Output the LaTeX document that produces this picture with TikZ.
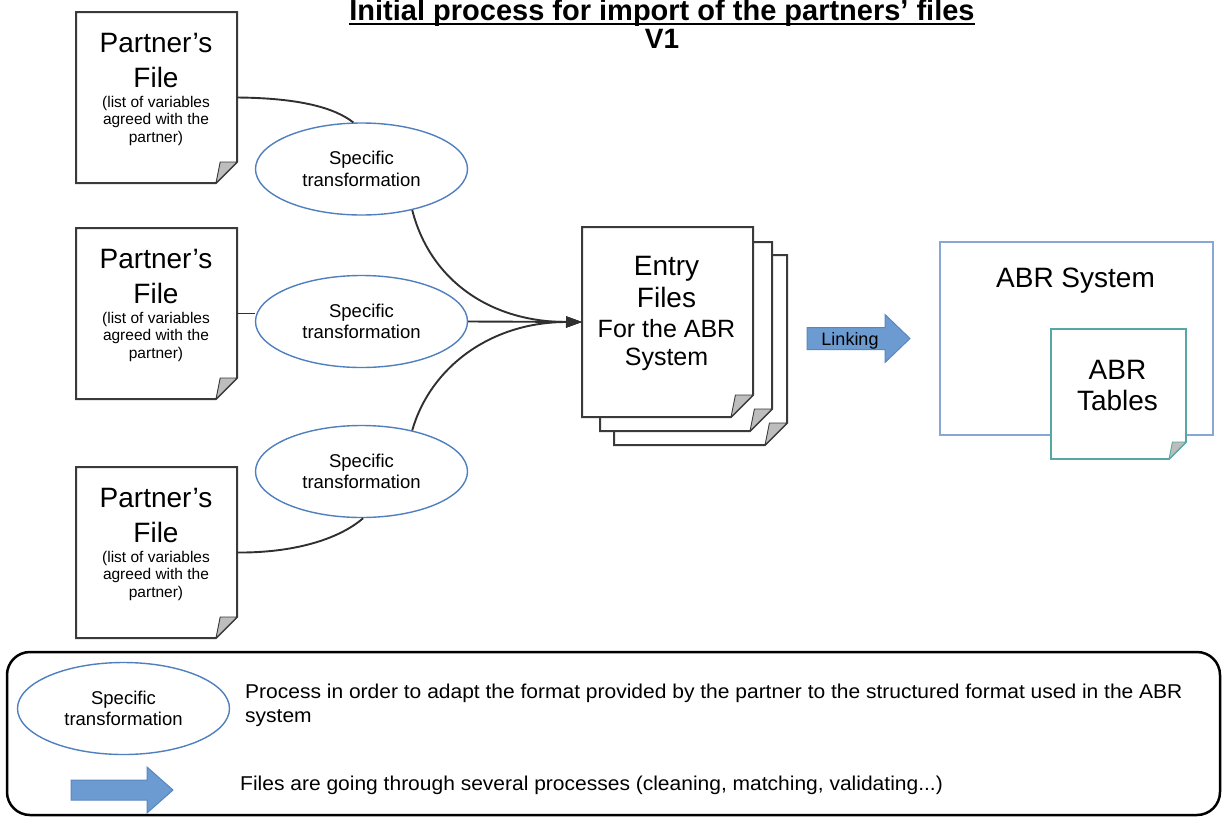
\documentclass[tikz,border=0pt]{standalone}
\usepackage{fontspec}
\setmainfont{Liberation Sans}
\newfontfamily\widesans[FakeStretch=1.05]{Liberation Sans}
\usetikzlibrary{arrows.meta,shapes.geometric}

\definecolor{ellblue}{HTML}{4F7FBF}
\definecolor{arrowfill}{HTML}{6C9BD2}
\definecolor{arrowedge}{HTML}{5A86C0}
\definecolor{sysblue}{HTML}{88A6D6}
\definecolor{tablegreen}{HTML}{55A8A4}
\definecolor{pageline}{HTML}{3A3A3A}
\definecolor{wirecol}{HTML}{303030}
\definecolor{foldgray}{HTML}{BDBDBD}

\newcommand{\fsz}[2]{\fontsize{#1}{#2}\selectfont}

% page with a curled bottom-right corner drawn around a (blank) node
% #1 node, #2 stroke colour, #3 fold size, #4 line width
\newcommand{\foldedpage}[4]{%
  \fill[white] (#1.north west) -- (#1.north east) -- ([yshift=#3]#1.south east)
     -- ([xshift=-#3]#1.south east) -- (#1.south west) -- cycle;
  \draw[#2, line width=#4, line join=miter] (#1.north west) -- (#1.north east)
     -- ([yshift=#3]#1.south east) -- ([xshift=-#3]#1.south east) -- (#1.south west) -- cycle;
  \filldraw[fill=foldgray, draw=#2, line width=0.9pt, line join=round]
     ([yshift=#3]#1.south east) -- ([xshift=-0.8*#3, yshift=#3]#1.south east)
     -- ([xshift=-#3]#1.south east) -- cycle;
}

% the three lines of a partner's file
\newcommand{\partnerlabels}[1]{%
  \node[bigtxt] (#1-l1) at ([xshift=-0.5pt, yshift=45.5pt]#1.center) {Partner’s};
  \node[bigtxt] (#1-l2) at ([xshift=-0.5pt, yshift=10.5pt]#1.center) {File};
  \node[smalltxt] (#1-l3) at ([xshift=-0.5pt, yshift=-9.5pt]#1.center) {(list of variables};
  \node[smalltxt] (#1-l4) at ([xshift=-0.5pt, yshift=-27pt]#1.center) {agreed with the};
  \node[smalltxt] (#1-l5) at ([xshift=-0.5pt, yshift=-44.5pt]#1.center) {partner)};
}

\tikzset{
  blank/.style={rectangle, draw=none, inner sep=0pt, outer sep=0pt},
  trans/.style={ellipse, draw=ellblue, line width=1.4pt, fill=white,
    minimum width=212pt, minimum height=92pt, inner sep=0pt,
    align=center, font=\fsz{18.5}{21.5}},
  bigtxt/.style={anchor=base, inner sep=0pt, font=\fsz{28}{30}},
  entrytxt/.style={anchor=base, inner sep=0pt, font=\fsz{25}{27}},
  smalltxt/.style={anchor=base, inner sep=0pt, font=\fsz{15.5}{17}},
  legtxt/.style={anchor=base west, inner sep=0pt, font=\widesans\fsz{20}{22}},
  wire/.style={draw=wirecol, line width=1.9pt},
  tip/.style={-{Triangle[length=16pt,width=11pt]}},
  blockarrow/.style={fill=arrowfill, draw=arrowedge, line width=1pt, line join=miter},
}

\begin{document}
\begin{tikzpicture}[x=1pt, y=-1pt]
\useasboundingbox (0,0) rectangle (1224,817);

% title
\node[anchor=base, inner sep=0pt, font=\fsz{29}{31}\bfseries] (title) at (662,20.5)
  {Initial process for import of the partners’ files};
\draw[line width=2.2pt] ([yshift=-3.5pt]title.base west) -- ([yshift=-3.5pt]title.base east);
\node[anchor=base, inner sep=0pt, font=\fsz{28}{30}\bfseries] (version) at (662,48.5) {V1};

% partners' files
\node[blank, minimum width=161pt, minimum height=171pt] (p1) at (156.5,97.5) {};
\node[blank, minimum width=161pt, minimum height=171pt] (p2) at (156.5,313.5) {};
\node[blank, minimum width=161pt, minimum height=171pt] (p3) at (156.5,552.5) {};
\foldedpage{p1}{pageline}{21pt}{2pt}
\foldedpage{p2}{pageline}{21pt}{2pt}
\foldedpage{p3}{pageline}{21pt}{2pt}
\partnerlabels{p1}
\partnerlabels{p2}
\partnerlabels{p3}

% transformations
\node[trans] (e1) at (361.5,169) {Specific\\transformation};
\node[trans] (e2) at (361.5,321.5) {Specific\\transformation};
\node[trans] (e3) at (361.5,471.5) {Specific\\transformation};

% entry files (stack of three pages)
\node[blank, minimum width=173pt, minimum height=190pt] (ef3) at (700.5,350) {};
\node[blank, minimum width=172pt, minimum height=189pt] (ef2) at (686,336.5) {};
\node[blank, minimum width=171pt, minimum height=190pt] (ef1) at (667.5,322) {};
\foldedpage{ef3}{pageline}{22pt}{2pt}
\foldedpage{ef2}{pageline}{22pt}{2pt}
\foldedpage{ef1}{pageline}{22pt}{2pt}
\node[bigtxt] (ef-l1) at (666.5,275) {Entry};
\node[bigtxt] (ef-l2) at (666.5,307) {Files};
\node[entrytxt] (ef-l3) at (666.5,337) {For the ABR};
\node[entrytxt] (ef-l4) at (666.5,365) {System};

% connectors
\draw[wire] (p1.east) .. controls (300,98) and (335,108) .. (e1.100);
\draw[wire] (p2.east) -- (p2.east -| e2.west);
\draw[wire] (p3.east) .. controls (292,553) and (338,540) .. (e3.-88);
\draw[wire, tip] (e1.-39) .. controls (430,280) and (490,322) .. (ef1.west);
\draw[wire, tip] (e3.39) .. controls (430,368) and (490,322) .. (ef1.west);
\draw[wire, tip] (e2.east) -- (ef1.west);

% linking arrow
\coordinate (lk) at (807,338.5);
\draw[blockarrow] (lk) ++(0,-11) -- ++(78,0) -- ++(0,-13) -- ++(25,24)
  -- ++(-25,24) -- ++(0,-13) -- ++(-78,0) -- cycle;
\node[anchor=base, inner sep=0pt, font=\fsz{18}{20}] (linking) at (850,345) {Linking};

% ABR system
\node[blank, draw=sysblue, line width=2pt, minimum width=273pt, minimum height=193pt]
  (abr) at (1076.5,338.5) {};
\node[bigtxt] (abr-l) at (1075.5,287) {ABR System};
\node[blank, minimum width=135pt, minimum height=130pt] (tbl) at (1118.5,394) {};
\foldedpage{tbl}{tablegreen}{17pt}{1.8pt}
\node[bigtxt] (tbl-l1) at (1117.5,379) {ABR};
\node[bigtxt] (tbl-l2) at (1117.5,410) {Tables};

% legend
\node[blank, draw=black, line width=2.5pt, rounded corners=23pt,
  minimum width=1213pt, minimum height=163pt] (legend) at (613.5,733.5) {};
\node[trans] (le) at (123.5,708.5) {Specific\\transformation};
\node[legtxt] (leg-t1) at (245,698)
  {Process in order to adapt the format provided by the partner to the structured format used in the ABR};
\node[legtxt] (leg-t2) at (245,722) {system};
\coordinate (lg) at (71,790);
\draw[blockarrow] (lg) ++(0,-10) -- ++(76,0) -- ++(0,-13) -- ++(26,23)
  -- ++(-26,23) -- ++(0,-13) -- ++(-76,0) -- cycle;
\node[legtxt] (leg-t3) at (240,790)
  {Files are going through several processes (cleaning, matching, validating...)};
\end{tikzpicture}
\end{document}
